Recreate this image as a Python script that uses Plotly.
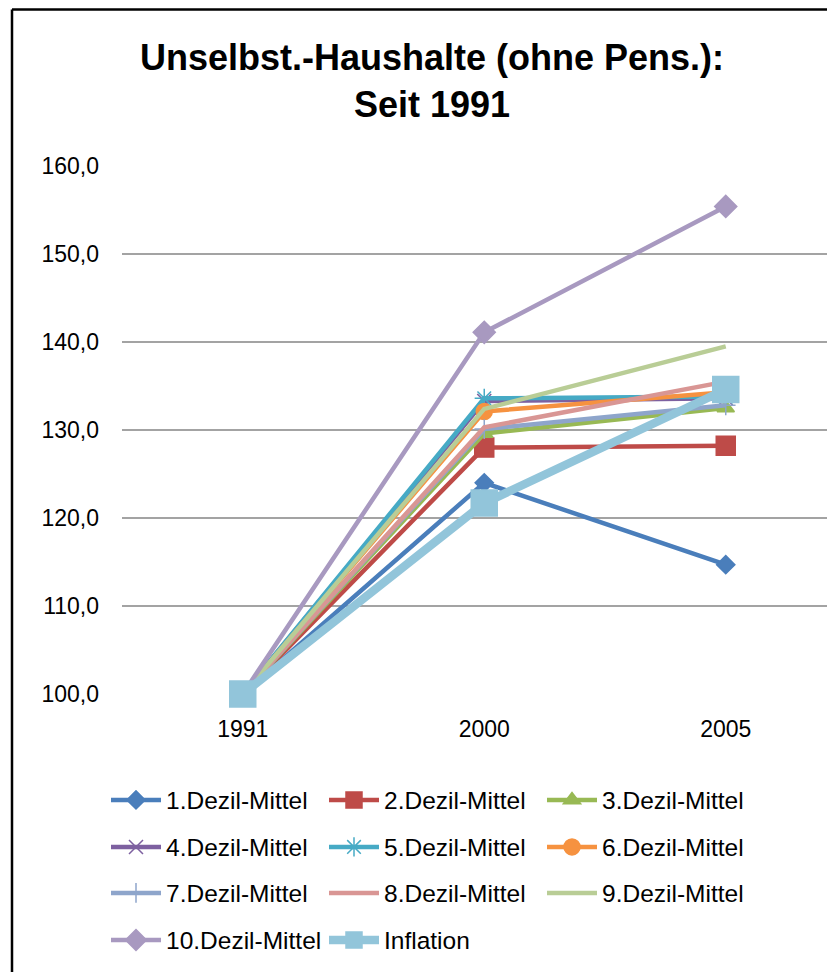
import plotly.graph_objects as go

# Daten (Index 1991 = 100)
years = ["1991", "2000", "2005"]

dezil_1 = [100.0, 124.0, 114.7]
dezil_2 = [100.0, 128.0, 128.2]
dezil_3 = [100.0, 129.6, 132.5]
dezil_4 = [100.0, 133.3, 133.6]
dezil_5 = [100.0, 133.6, 133.8]
dezil_6 = [100.0, 132.1, 134.3]
dezil_7 = [100.0, 130.1, 132.8]
dezil_8 = [100.0, 130.3, 135.5]
dezil_9 = [100.0, 132.4, 139.5]
dezil_10 = [100.0, 141.1, 155.4]
inflation = [100.0, 121.7, 134.6]

series_names = [
    "1.Dezil-Mittel", "2.Dezil-Mittel", "3.Dezil-Mittel",
    "4.Dezil-Mittel", "5.Dezil-Mittel", "6.Dezil-Mittel",
    "7.Dezil-Mittel", "8.Dezil-Mittel", "9.Dezil-Mittel",
    "10.Dezil-Mittel", "Inflation",
]
series_values = [dezil_1, dezil_2, dezil_3, dezil_4, dezil_5, dezil_6,
                 dezil_7, dezil_8, dezil_9, dezil_10, inflation]

# Stil je Reihe: Farbe, Marker, Markergröße, Linienbreite
colors = ["#4A7EBB", "#BE4B48", "#98B954", "#7D60A0", "#46AAC5", "#F69240",
          "#8EA5CB", "#D99694", "#B9CD96", "#A899C0", "#92C5DA"]
symbols = ["diamond", "square", "triangle-up", "x-thin", "asterisk-open", "circle",
           "cross-thin", None, None, "diamond", "square"]
sizes = [14, 19, 15, 14, 16, 16, 14, 0, 0, 17, 26]
widths = [4.5, 4.5, 4.5, 4.5, 4.5, 4.5, 4.5, 4.5, 4.5, 4.5, 8.5]
legend_ids = ["legend", "legend", "legend",
              "legend2", "legend2", "legend2",
              "legend3", "legend3", "legend3",
              "legend4", "legend4"]

FONT = "Liberation Sans, Arial, sans-serif"

fig = go.Figure()
for name, vals, col, sym, sz, w, lg in zip(series_names, series_values, colors,
                                           symbols, sizes, widths, legend_ids):
    if sym is None:
        fig.add_trace(go.Scatter(x=years, y=vals, name=name, mode="lines",
                                 line=dict(color=col, width=w), legend=lg,
                                 cliponaxis=False))
    else:
        fig.add_trace(go.Scatter(
            x=years, y=vals, name=name, mode="lines+markers",
            line=dict(color=col, width=w),
            marker=dict(symbol=sym, size=sz, color=col,
                        line=dict(color=col, width=1.5)),
            legend=lg, cliponaxis=False,
        ))

# Seite hat 8px Rand -> Figur um 8px kleiner, Koordinaten in Seitenpixeln
OFF = 8
W, H = 835 - OFF, 972 - OFF
L, R, T, B = 122 - OFF, 835 - OFF, 166 - OFF, 694 - OFF
pw, ph = R - L, B - T


def px_x(page_x):
    return (page_x - OFF - L) / pw


def px_y(page_y):
    return (B - (page_y - OFF)) / ph


legend_style = dict(
    orientation="h", xanchor="left", yanchor="middle", x=px_x(106),
    entrywidth=153, entrywidthmode="pixels", itemwidth=50,
    font=dict(family=FONT, size=24.5, color="#000000"),
    bgcolor="rgba(0,0,0,0)", traceorder="normal",
)

fig.update_layout(
    width=W, height=H,
    margin=dict(l=L, r=W - R, t=T, b=H - B),
    paper_bgcolor="white", plot_bgcolor="white",
    separators=",.",
    title=dict(
        text="<b>Unselbst.-Haushalte (ohne Pens.):<br>Seit 1991</b>",
        x=(432 - OFF) / W, xanchor="center", xref="container",
        y=1 - 62 / H, yanchor="top", yref="container",
        font=dict(family=FONT, size=36, color="#000000"),
    ),
    legend=dict(legend_style, y=px_y(800)),
    legend2=dict(legend_style, y=px_y(847)),
    legend3=dict(legend_style, y=px_y(893)),
    legend4=dict(legend_style, y=px_y(940)),
    shapes=[
        dict(type="line", xref="paper", yref="paper",
             x0=px_x(12), x1=px_x(12), y0=px_y(980), y1=px_y(9.5),
             line=dict(color="#000000", width=2.5)),
        dict(type="line", xref="paper", yref="paper",
             x0=px_x(12), x1=px_x(845), y0=px_y(9.5), y1=px_y(9.5),
             line=dict(color="#000000", width=2.5)),
    ],
)

fig.update_xaxes(
    type="category", range=[-0.5, (R - L) / 241.5 - 0.5],
    showgrid=False, showline=False, zeroline=False, ticks="",
    ticklabelstandoff=19,
    tickfont=dict(family=FONT, size=23, color="#000000"),
)
fig.update_yaxes(
    range=[100, 160], dtick=10, tickformat=".1f",
    showgrid=True, gridcolor="#a3a3a3", gridwidth=1.5,
    zeroline=False, showline=False, ticks="",
    ticklabelstandoff=22,
    tickfont=dict(family=FONT, size=23, color="#000000"),
)

fig.write_html("out.html")
